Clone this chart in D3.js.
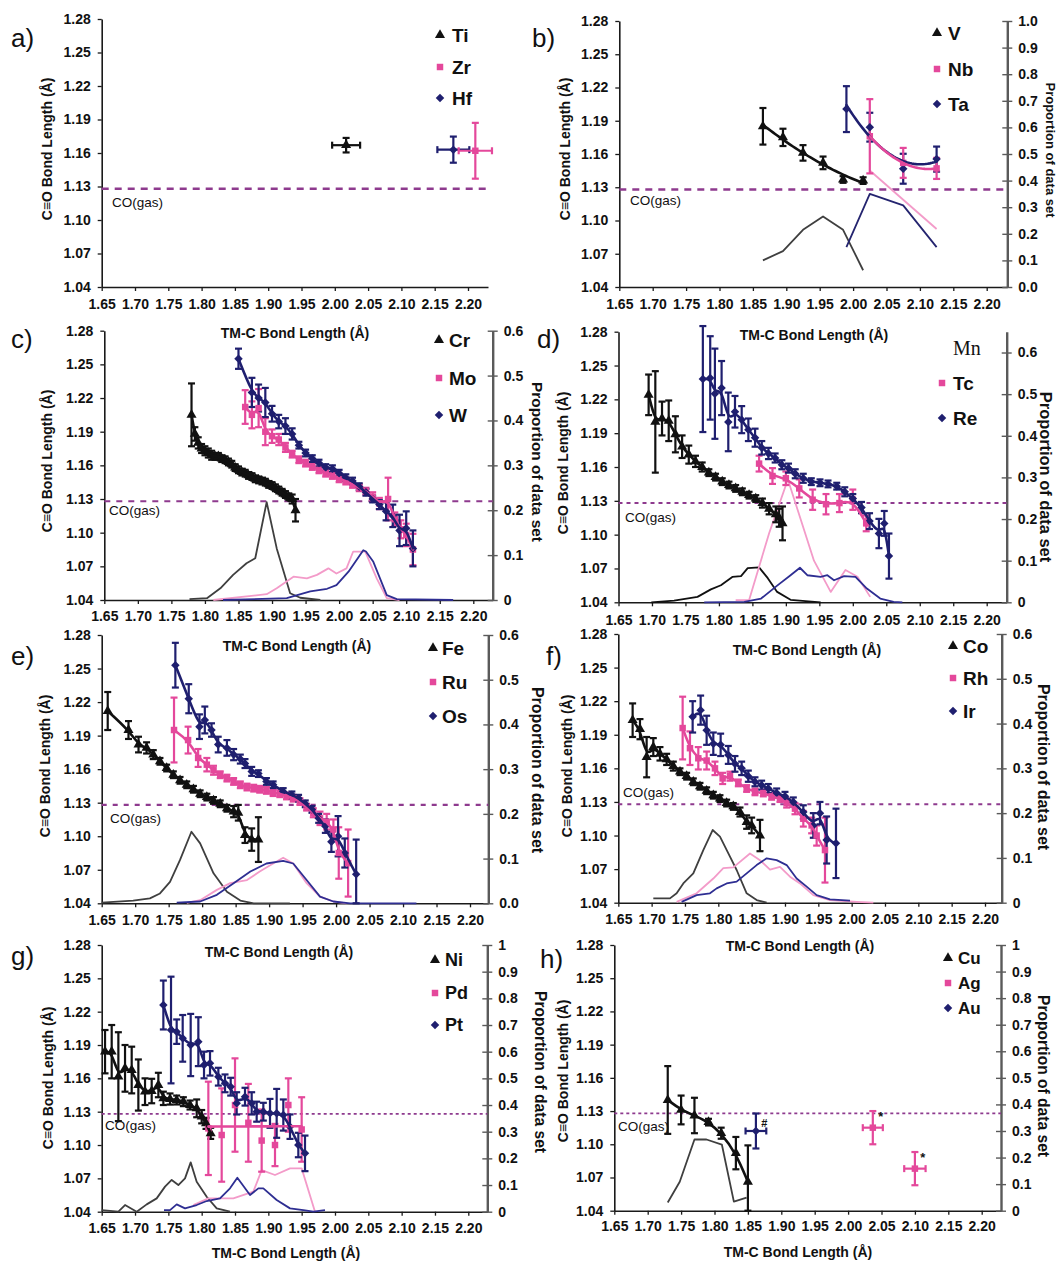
<!DOCTYPE html>
<html>
<head>
<meta charset="utf-8">
<script src="https://cdn.jsdelivr.net/npm/d3@7/dist/d3.min.js"></script>
<style>
  body { margin: 0; background: #fff; }
  svg { display: block; }
</style>
</head>
<body>
<svg id="fig" width="1063" height="1262"></svg>
<script>
// ---------- shared axis values ----------
const xTicks = [1.65, 1.70, 1.75, 1.80, 1.85, 1.90, 1.95, 2.00, 2.05, 2.10, 2.15, 2.20];
const yTicks = [1.04, 1.07, 1.10, 1.13, 1.16, 1.19, 1.22, 1.25, 1.28];
const propTicks6 = [0, 0.1, 0.2, 0.3, 0.4, 0.5, 0.6];
const propTicks10 = [0, 0.1, 0.2, 0.3, 0.4, 0.5, 0.6, 0.7, 0.8, 0.9, 1.0];
const coGas = 1.128;

// ---------- a) Ti, Zr, Hf (single averaged points) ----------
const tiPt = { x: [2.017], y: [1.167], ex: [0.021], ey: [0.0065] };
const zrPt = { x: [2.211], y: [1.162], ex: [0.025], ey: [0.025] };
const hfPt = { x: [2.178], y: [1.163], ex: [0.024], ey: [0.0117] };

// ---------- b) V, Nb, Ta ----------
const vX = [1.865, 1.895, 1.925, 1.955, 1.985, 2.015];
const vY = [1.185, 1.175, 1.161, 1.152, 1.137, 1.136];
const vErr = [0.0165, 0.0078, 0.007, 0.0057, 0.003, 0.003];
const vDistX = [1.865, 1.895, 1.925, 1.955, 1.985, 2.015];
const vDistP = [0.10, 0.135, 0.215, 0.265, 0.215, 0.063];
const nbX = [2.025, 2.075, 2.125];
const nbY = [1.176, 1.152, 1.147];
const nbErr = [0.0335, 0.0135, 0.0095];
const nbDistX = [2.025, 2.075, 2.125];
const nbDistP = [0.438, 0.328, 0.218];
const taX = [1.990, 2.025, 2.075, 2.125];
const taY = [1.2005, 1.1842, 1.1467, 1.1554];
const taErr = [0.0207, 0.013, 0.0135, 0.0113];
const taDistX = [1.990, 2.025, 2.075, 2.125];
const taDistP = [0.15, 0.35, 0.307, 0.15];

// ---------- c) Cr, Mo, W ----------
const crX = [1.780, 1.785, 1.790, 1.795, 1.800, 1.805, 1.810, 1.815, 1.820, 1.825, 1.830, 1.835, 1.840, 1.845, 1.850, 1.855,
             1.860, 1.865, 1.870, 1.875, 1.880, 1.885, 1.890, 1.895, 1.900, 1.905, 1.910, 1.915, 1.920, 1.925, 1.930, 1.935];
const crY = [1.205, 1.188, 1.180, 1.175, 1.173, 1.171, 1.169, 1.168, 1.168, 1.166, 1.165, 1.163, 1.161, 1.158, 1.156, 1.154,
             1.153, 1.151, 1.150, 1.148, 1.147, 1.146, 1.145, 1.143, 1.142, 1.140, 1.138, 1.136, 1.134, 1.132, 1.130, 1.120];
const crErr = [0.028, 0.006, 0.005, 0.004, 0.004, 0.004, 0.004, 0.003, 0.003, 0.003, 0.003, 0.003, 0.003, 0.003, 0.003, 0.003,
               0.003, 0.003, 0.003, 0.003, 0.003, 0.003, 0.003, 0.003, 0.003, 0.003, 0.003, 0.003, 0.003, 0.003, 0.004, 0.010];
const crDistX = [1.777, 1.803, 1.823, 1.842, 1.862, 1.875, 1.892, 1.907, 1.927, 1.942, 1.972];
const crDistP = [0.002, 0.004, 0.026, 0.056, 0.082, 0.093, 0.218, 0.115, 0.015, 0.005, 0.0];
const moX = [1.86, 1.87, 1.88, 1.89, 1.90, 1.91, 1.92, 1.93, 1.94, 1.95, 1.96, 1.97, 1.98,
             1.99, 2.00, 2.01, 2.02, 2.03, 2.04, 2.05, 2.06, 2.073, 2.083, 2.092, 2.10, 2.11];
const moY = [1.212, 1.205, 1.211, 1.190, 1.186, 1.183, 1.176, 1.170, 1.165, 1.162, 1.159, 1.156, 1.153,
             1.151, 1.148, 1.146, 1.143, 1.140, 1.137, 1.132, 1.126, 1.130, 1.112, 1.103, 1.098, 1.085];
const moErr = [0.015, 0.012, 0.017, 0.012, 0.006, 0.005, 0.004, 0.003, 0.003, 0.003, 0.003, 0.003, 0.003,
               0.003, 0.003, 0.003, 0.003, 0.003, 0.003, 0.004, 0.005, 0.019, 0.006, 0.008, 0.010, 0.014];
const moDistX = [1.8125, 1.892, 1.907, 1.932, 1.952, 1.967, 1.984, 1.996, 2.011, 2.021, 2.039, 2.056, 2.071, 2.09];
const moDistP = [0.0, 0.013, 0.026, 0.052, 0.048, 0.056, 0.0705, 0.059, 0.0705, 0.108, 0.108, 0.048, 0.004, 0.0];
const wX = [1.85, 1.87, 1.88, 1.89, 1.90, 1.91, 1.92, 1.93, 1.94, 1.95, 1.96, 1.97, 1.98,
            1.99, 2.00, 2.01, 2.02, 2.03, 2.04, 2.05, 2.06, 2.07, 2.08, 2.09, 2.10, 2.11];
const wY = [1.255, 1.225, 1.220, 1.216, 1.206, 1.199, 1.195, 1.188, 1.178, 1.171, 1.166, 1.162, 1.158,
            1.157, 1.153, 1.149, 1.146, 1.141, 1.136, 1.130, 1.125, 1.119, 1.115, 1.102, 1.104, 1.086];
const wErr = [0.009, 0.013, 0.012, 0.013, 0.007, 0.006, 0.007, 0.005, 0.003, 0.003, 0.003, 0.003, 0.003,
              0.003, 0.003, 0.003, 0.003, 0.003, 0.003, 0.003, 0.004, 0.008, 0.010, 0.014, 0.015, 0.016];
const wDistX = [1.827, 1.922, 1.957, 1.982, 1.996, 2.014, 2.036, 2.040, 2.051, 2.071, 2.086, 2.17];
const wDistP = [0.0, 0.004, 0.019, 0.025, 0.033, 0.063, 0.111, 0.108, 0.085, 0.011, 0.002, 0.0];

// ---------- d) Mn, Tc, Re ----------
const mnX = [1.695, 1.705, 1.715, 1.725, 1.735, 1.745, 1.755, 1.765, 1.775, 1.785, 1.795,
             1.805, 1.815, 1.825, 1.835, 1.845, 1.855, 1.865, 1.875, 1.885, 1.890, 1.895];
const mnY = [1.224, 1.200, 1.203, 1.201, 1.189, 1.178, 1.171, 1.165, 1.160, 1.155, 1.151,
             1.147, 1.144, 1.141, 1.138, 1.135, 1.132, 1.128, 1.123, 1.118, 1.115, 1.110];
const mnErr = [0.018, 0.045, 0.015, 0.018, 0.016, 0.010, 0.008, 0.005, 0.004, 0.003, 0.003,
               0.003, 0.003, 0.003, 0.003, 0.003, 0.003, 0.004, 0.005, 0.007, 0.008, 0.015];
const mnDistX = [1.699, 1.733, 1.768, 1.788, 1.803, 1.820, 1.833, 1.843, 1.860, 1.873, 1.887, 1.907, 1.952];
const mnDistP = [0.0, 0.004, 0.013, 0.031, 0.041, 0.061, 0.063, 0.082, 0.084, 0.058, 0.025, 0.006, 0.0];
const tcX = [1.86, 1.88, 1.90, 1.92, 1.94, 1.96, 1.98, 2.00, 2.02];
const tcY = [1.163, 1.152, 1.150, 1.141, 1.131, 1.127, 1.128, 1.131, 1.110];
const tcErr = [0.007, 0.007, 0.006, 0.008, 0.009, 0.009, 0.008, 0.009, 0.007];
const tcDistX = [1.825, 1.845, 1.875, 1.903, 1.942, 1.967, 1.989, 2.007, 2.026];
const tcDistP = [0.005, 0.005, 0.166, 0.295, 0.100, 0.025, 0.0775, 0.0615, 0.013];
const reX = [1.776, 1.787, 1.794, 1.804, 1.814, 1.824, 1.834, 1.844, 1.854, 1.864, 1.874, 1.884, 1.894, 1.904,
             1.914, 1.926, 1.938, 1.951, 1.963, 1.976, 1.988, 2.000, 2.013, 2.025, 2.039, 2.047, 2.054];
const reY = [1.238, 1.239, 1.225, 1.230, 1.200, 1.209, 1.202, 1.193, 1.186, 1.177, 1.172, 1.168, 1.162, 1.159,
             1.154, 1.150, 1.147, 1.146, 1.145, 1.143, 1.138, 1.132, 1.124, 1.112, 1.101, 1.110, 1.081];
const reErr = [0.047, 0.037, 0.040, 0.024, 0.026, 0.014, 0.012, 0.010, 0.008, 0.006, 0.005, 0.004, 0.004, 0.004,
               0.004, 0.004, 0.003, 0.003, 0.003, 0.003, 0.004, 0.004, 0.005, 0.007, 0.013, 0.011, 0.020];
const reDistX = [1.778, 1.838, 1.863, 1.887, 1.907, 1.921, 1.932, 1.952, 1.962, 1.972, 1.987, 2.004, 2.021, 2.041, 2.061, 2.074];
const reDistP = [0.0, 0.001, 0.009, 0.040, 0.065, 0.083, 0.065, 0.061, 0.065, 0.053, 0.063, 0.061, 0.033, 0.009, 0.001, 0.0];

// ---------- e) Fe, Ru, Os ----------
const feX = [1.659, 1.690, 1.705, 1.717, 1.727, 1.737, 1.747, 1.757, 1.767, 1.777, 1.787,
             1.797, 1.807, 1.817, 1.827, 1.837, 1.847, 1.854, 1.864, 1.874, 1.884];
const feY = [1.212, 1.195, 1.182, 1.179, 1.173, 1.167, 1.161, 1.155, 1.150, 1.146, 1.142,
             1.138, 1.135, 1.132, 1.129, 1.125, 1.122, 1.121, 1.101, 1.097, 1.097];
const feErr = [0.017, 0.008, 0.007, 0.005, 0.004, 0.003, 0.003, 0.003, 0.003, 0.003, 0.003,
               0.003, 0.003, 0.003, 0.003, 0.003, 0.005, 0.007, 0.007, 0.010, 0.020];
const feDistX = [1.65, 1.697, 1.722, 1.737, 1.752, 1.767, 1.784, 1.797, 1.817, 1.837, 1.857, 1.877, 1.931];
const feDistP = [0.0015, 0.006, 0.011, 0.022, 0.048, 0.097, 0.160, 0.134, 0.067, 0.026, 0.006, 0.0, 0.0];
const ruX = [1.758, 1.779, 1.794, 1.807, 1.817, 1.827, 1.837, 1.847, 1.857, 1.867, 1.877, 1.886, 1.896,
             1.906, 1.916, 1.926, 1.936, 1.946, 1.956, 1.966, 1.976, 1.986, 1.996, 2.004, 2.018];
const ruY = [1.195, 1.186, 1.170, 1.164, 1.159, 1.155, 1.152, 1.149, 1.146, 1.144, 1.143, 1.142, 1.141,
             1.139, 1.138, 1.136, 1.134, 1.131, 1.126, 1.121, 1.116, 1.113, 1.106, 1.085, 1.076];
const ruErr = [0.029, 0.012, 0.008, 0.006, 0.004, 0.003, 0.003, 0.003, 0.003, 0.003, 0.003, 0.003, 0.003,
               0.003, 0.003, 0.003, 0.003, 0.003, 0.003, 0.004, 0.006, 0.007, 0.009, 0.023, 0.030];
const ruDistX = [1.777, 1.797, 1.822, 1.842, 1.867, 1.886, 1.906, 1.921, 1.936, 1.956, 1.976, 1.996, 2.016];
const ruDistP = [0.001, 0.007, 0.030, 0.045, 0.052, 0.071, 0.089, 0.102, 0.089, 0.045, 0.015, 0.004, 0.0];
const osX = [1.760, 1.780, 1.796, 1.804, 1.814, 1.824, 1.837, 1.847, 1.857, 1.864, 1.874, 1.884, 1.896,
             1.906, 1.921, 1.934, 1.944, 1.954, 1.964, 1.974, 1.984, 1.993, 2.003, 2.013, 2.030];
const osY = [1.253, 1.223, 1.198, 1.204, 1.195, 1.182, 1.179, 1.173, 1.169, 1.165, 1.158, 1.156, 1.149,
             1.146, 1.140, 1.137, 1.134, 1.129, 1.124, 1.116, 1.109, 1.095, 1.100, 1.085, 1.066];
const osErr = [0.020, 0.013, 0.011, 0.012, 0.006, 0.007, 0.007, 0.005, 0.004, 0.004, 0.004, 0.003, 0.003,
               0.003, 0.003, 0.003, 0.003, 0.003, 0.003, 0.004, 0.006, 0.009, 0.018, 0.013, 0.031];
const osDistX = [1.762, 1.797, 1.822, 1.847, 1.872, 1.896, 1.921, 1.936, 1.956, 1.976, 1.996, 2.021, 2.12];
const osDistP = [0.0015, 0.004, 0.019, 0.045, 0.071, 0.089, 0.095, 0.089, 0.052, 0.015, 0.004, 0.0, 0.0];

// ---------- f) Co, Rh, Ir ----------
const coX = [1.6715, 1.6825, 1.6925, 1.7025, 1.7125, 1.7225, 1.7325, 1.7425, 1.7525, 1.7625,
             1.7725, 1.7825, 1.7925, 1.8025, 1.8125, 1.8225, 1.8325, 1.8425, 1.850, 1.8625];
const coY = [1.203, 1.195, 1.170, 1.179, 1.173, 1.168, 1.162, 1.157, 1.153, 1.148,
             1.144, 1.140, 1.136, 1.133, 1.129, 1.126, 1.121, 1.112, 1.109, 1.100];
const coErr = [0.015, 0.009, 0.018, 0.008, 0.006, 0.005, 0.004, 0.003, 0.003, 0.003,
               0.003, 0.003, 0.003, 0.003, 0.003, 0.003, 0.004, 0.006, 0.007, 0.014];
const coDistX = [1.7025, 1.7275, 1.7375, 1.7475, 1.7625, 1.7775, 1.7915, 1.8025, 1.8175, 1.8275, 1.8425, 1.8575, 1.8725];
const coDistP = [0.0097, 0.0097, 0.021, 0.043, 0.0655, 0.1176, 0.1623, 0.1474, 0.1027, 0.073, 0.021, 0.006, 0.0];
const rhX = [1.7465, 1.7575, 1.770, 1.7825, 1.795, 1.8065, 1.8175, 1.830, 1.8425, 1.855,
             1.8675, 1.880, 1.8925, 1.9025, 1.915, 1.9275, 1.940, 1.9475, 1.960];
const rhY = [1.196, 1.178, 1.169, 1.167, 1.160, 1.151, 1.153, 1.147, 1.142, 1.139,
             1.138, 1.135, 1.133, 1.129, 1.124, 1.115, 1.109, 1.100, 1.087];
const rhErr = [0.028, 0.015, 0.010, 0.008, 0.006, 0.005, 0.004, 0.003, 0.003, 0.003,
               0.003, 0.003, 0.003, 0.004, 0.005, 0.007, 0.007, 0.009, 0.029];
const rhDistX = [1.7375, 1.7675, 1.7925, 1.8075, 1.8225, 1.8475, 1.8625, 1.8775, 1.8925, 1.9075, 1.9225, 1.9425, 1.9675, 2.0075, 2.0325];
const rhDistP = [0.002, 0.021, 0.054, 0.077, 0.079, 0.110, 0.095, 0.074, 0.080, 0.058, 0.043, 0.017, 0.006, 0.002, 0.0];
const irX = [1.7615, 1.7735, 1.7825, 1.7925, 1.8035, 1.815, 1.825, 1.835, 1.845, 1.855,
             1.865, 1.875, 1.8875, 1.900, 1.9125, 1.9275, 1.9425, 1.9525, 1.9625, 1.9765];
const irY = [1.206, 1.212, 1.194, 1.182, 1.181, 1.172, 1.164, 1.160, 1.153, 1.148,
             1.145, 1.142, 1.138, 1.135, 1.130, 1.121, 1.109, 1.120, 1.096, 1.093];
const irErr = [0.014, 0.013, 0.013, 0.010, 0.010, 0.008, 0.007, 0.006, 0.005, 0.004,
               0.004, 0.004, 0.004, 0.004, 0.004, 0.006, 0.011, 0.010, 0.021, 0.031];
const irDistX = [1.745, 1.7675, 1.7875, 1.7975, 1.8125, 1.8275, 1.8425, 1.8575, 1.8725, 1.8875, 1.9025, 1.9175, 1.9325, 1.9475, 1.9675, 1.9975];
const irDistP = [0.002, 0.017, 0.021, 0.032, 0.043, 0.047, 0.0655, 0.084, 0.099, 0.095, 0.084, 0.054, 0.036, 0.017, 0.0075, 0.0045];

// ---------- g) Ni, Pd, Pt ----------
const niX = [1.655, 1.665, 1.675, 1.685, 1.695, 1.705, 1.715, 1.725, 1.735,
             1.7425, 1.7525, 1.7625, 1.7725, 1.7825, 1.7925, 1.800, 1.8065, 1.8135];
const niY = [1.184, 1.184, 1.1615, 1.169, 1.1675, 1.154, 1.148, 1.1486, 1.154,
             1.142, 1.1414, 1.1405, 1.139, 1.136, 1.133, 1.1255, 1.1195, 1.1105];
const niErr = [0.0195, 0.024, 0.040, 0.021, 0.021, 0.023, 0.012, 0.011, 0.011,
               0.006, 0.005, 0.004, 0.004, 0.004, 0.008, 0.006, 0.005, 0.005];
const niDistX = [1.65, 1.675, 1.685, 1.7025, 1.7175, 1.7325, 1.745, 1.755, 1.765, 1.775, 1.7835, 1.7925, 1.8075, 1.8225, 1.8425];
const niDistP = [0.006, 0.0, 0.025, 0.0, 0.0275, 0.05, 0.094, 0.119, 0.10, 0.125, 0.185, 0.1125, 0.056, 0.0125, 0.0];
const pdX = [1.81, 1.83, 1.85, 1.87, 1.89, 1.91, 1.93, 1.95];
const pdY = [1.115, 1.109, 1.136, 1.120, 1.104, 1.100, 1.136, 1.114];
const pdErr = [0.042, 0.042, 0.042, 0.035, 0.028, 0.019, 0.024, 0.029];
const pdDistX = [1.7875, 1.81, 1.8475, 1.8775, 1.89, 1.91, 1.9325, 1.95, 1.97];
const pdDistP = [0.025, 0.05, 0.05, 0.075, 0.156, 0.1375, 0.1625, 0.1625, 0.0];
const ptX = [1.7425, 1.754, 1.7625, 1.7715, 1.7835, 1.795, 1.8035, 1.8125, 1.825, 1.835, 1.8435,
             1.8525, 1.865, 1.875, 1.8825, 1.8925, 1.9025, 1.9125, 1.9225, 1.9325, 1.945, 1.955];
const ptY = [1.226, 1.2035, 1.202, 1.196, 1.190, 1.193, 1.172, 1.1735, 1.1615, 1.1555, 1.1525,
             1.1375, 1.1435, 1.1375, 1.130, 1.130, 1.1285, 1.1285, 1.127, 1.1165, 1.100, 1.0925];
const ptErr = [0.022, 0.048, 0.011, 0.021, 0.028, 0.022, 0.012, 0.011, 0.008, 0.008, 0.008,
               0.010, 0.008, 0.010, 0.009, 0.008, 0.013, 0.022, 0.014, 0.011, 0.011, 0.016];
const ptDistX = [1.7435, 1.7525, 1.7625, 1.775, 1.7925, 1.8075, 1.8275, 1.8425, 1.8535, 1.8725, 1.885, 1.8925, 1.9125, 1.9325, 1.9525, 1.9675, 1.985];
const ptDistP = [0.006, 0.006, 0.0275, 0.0125, 0.025, 0.04, 0.05, 0.0875, 0.1275, 0.0625, 0.0875, 0.0875, 0.044, 0.0125, 0.006, 0.0, 0.006];

// ---------- h) Cu, Ag, Au ----------
const cuX = [1.730, 1.750, 1.770, 1.791, 1.810, 1.832, 1.850];
const cuY = [1.140, 1.131, 1.126, 1.120, 1.110, 1.092, 1.066];
const cuErr = [0.0306, 0.013, 0.016, 0.003, 0.005, 0.0146, 0.033];
const cuDistX = [1.730, 1.748, 1.770, 1.788, 1.811, 1.829, 1.848];
const cuDistP = [0.031, 0.109, 0.268, 0.268, 0.249, 0.034, 0.049];
const agPt = { x: [2.037, 2.100], y: [1.115, 1.078], ex: [0.015, 0.016], ey: [0.015, 0.015] };
const auPt = { x: [1.862], y: [1.112], ex: [0.0155], ey: [0.0158] };

// ---------- styling ----------
const FONT = '"Liberation Sans", Arial, Helvetica, sans-serif';
const COL = {
  black: '#111111', pink: '#e4489b', navy: '#1f1f6f',
  dGray: '#3f3f3f', dPink: '#f39bc9', dBlue: '#2e2e92',
  co: '#8e3a8e', axis: '#1a1a1a', raxis: '#5a5a5a'
};
const fmt2 = d3.format('.2f');
const fmt1 = d3.format('.1f');
const fmtP = d => d === 0 ? '0' : fmt1(d);
const fmtP10 = d => d === 0 ? '0' : d === 1 ? '1' : fmt1(d);

const svg = d3.select('#fig');
svg.append('rect').attr('width', 1063).attr('height', 1262).attr('fill', '#fff');

const S = (x, y, e, mk, col, fit, dist, dcol) => ({ x, y, e, mk, col, fit, dist, dcol });

const panels = [
  { key: 'a)', lab: [11, 47], x0: 101.7, x1: 468, xr: 488, yt: 19, yb: 287, xpad: 12,
    rMax: null, coLab: [112, 207], dash: '7,6', dashW: 2.4,
    leftTitle: [47, 149],
    series: [], points: [[tiPt, 'tri', COL.black], [hfPt, 'dia', COL.navy], [zrPt, 'sq', COL.pink]],
    legend: { mx: 440, tx: 452, rows: [35, 67, 98], size: 19, items: [['Ti', 'tri', COL.black], ['Zr', 'sq', COL.pink], ['Hf', 'dia', COL.navy]] } },
  { key: 'b)', lab: [532, 47], x0: 619.3, x1: 986.7, xr: 1007.3, yt: 21, yb: 287, xpad: 12,
    rMax: 1.0, rTicks: propTicks10, rFmt: fmt1, rTitle: [1050, 150, 13], coLab: [630, 205], dash: '7,6', dashW: 2.4,
    leftTitle: [565, 149],
    series: [S(vX, vY, vErr, 'tri', COL.black, 2, [vDistX, vDistP], COL.dGray),
             S(taX, taY, taErr, 'dia', COL.navy, 2, [taDistX, taDistP], '#24246f'),
             S(nbX, nbY, nbErr, 'sq', COL.pink, 2, [nbDistX, nbDistP], COL.dPink)],
    legend: { mx: 937, tx: 948, rows: [33, 69, 104], size: 19, items: [['V', 'tri', COL.black], ['Nb', 'sq', COL.pink], ['Ta', 'dia', COL.navy]] } },
  { key: 'c)', lab: [11, 348], x0: 104.3, x1: 473.3, xr: 492.7, yt: 330.7, yb: 600, xpad: 11,
    rMax: 0.6, rTicks: propTicks6, rFmt: fmtP, rTitle: [537, 462, 15.4], coLab: [109, 515], dash: '6,6', dashW: 2.2,
    leftTitle: [47, 461],
    series: [S(crX, crY, crErr, 'tri', COL.black, 'smooth', [crDistX, crDistP], COL.dGray),
             S(moX, moY, moErr, 'sq', COL.pink, 'smooth', [moDistX, moDistP], COL.dPink),
             S(wX, wY, wErr, 'dia', COL.navy, 'smooth', [wDistX, wDistP], COL.dBlue)],
    legend: { mx: 439, tx: 449, rows: [340, 378, 415], size: 19, items: [['Cr', 'tri', COL.black], ['Mo', 'sq', COL.pink], ['W', 'dia', COL.navy]] } },
  { key: 'd)', lab: [537, 348], x0: 618.5, x1: 986.7, xr: 1006.7, yt: 331.7, yb: 602.3, xpad: 13,
    rMax: 0.65, rTicks: propTicks6, rFmt: fmtP, rTitle: [1046, 477, 16.4], coLab: [625, 522], dash: '4,4', dashW: 2,
    leftTitle: [563, 463],
    series: [S(mnX, mnY, mnErr, 'tri', COL.black, 'smooth', [mnDistX, mnDistP], COL.black),
             S(tcX, tcY, tcErr, 'sq', COL.pink, 'smooth', [tcDistX, tcDistP], COL.dPink),
             S(reX, reY, reErr, 'dia', COL.navy, 'smooth', [reDistX, reDistP], COL.dBlue)],
    legend: { mx: 942, tx: 953, rows: [348, 383, 418], size: 19, items: [['Mn', null, COL.black], ['Tc', 'sq', COL.pink], ['Re', 'dia', COL.navy]] } },
  { key: 'e)', lab: [11, 665], x0: 101.7, x1: 470, xr: 488.3, yt: 635, yb: 903.3, xpad: 12,
    rMax: 0.6, rTicks: propTicks6, rFmt: fmt1, rTitle: [537, 770, 16], coLab: [110, 823], dash: '5,6', dashW: 2.2,
    leftTitle: [45, 766],
    series: [S(feX, feY, feErr, 'tri', COL.black, 'smooth', [feDistX, feDistP], COL.dGray),
             S(ruX, ruY, ruErr, 'sq', COL.pink, 'smooth', [ruDistX, ruDistP], COL.dPink),
             S(osX, osY, osErr, 'dia', COL.navy, 'smooth', [osDistX, osDistP], COL.dBlue)],
    legend: { mx: 433, tx: 442, rows: [648, 682, 716], size: 19, items: [['Fe', 'tri', COL.black], ['Ru', 'sq', COL.pink], ['Os', 'dia', COL.navy]] } },
  { key: 'f)', lab: [546, 665], x0: 618.3, x1: 985, xr: 1001.7, yt: 634, yb: 902.7, xpad: 11,
    rMax: 0.6, rTicks: propTicks6, rFmt: fmtP, rTitle: [1043, 767, 16], coLab: [623, 797], dash: '4,5', dashW: 2,
    leftTitle: [567, 766],
    series: [S(coX, coY, coErr, 'tri', COL.black, 'smooth', [coDistX, coDistP], COL.dGray),
             S(rhX, rhY, rhErr, 'sq', COL.pink, 'smooth', [rhDistX, rhDistP], COL.dPink),
             S(irX, irY, irErr, 'dia', COL.navy, 'smooth', [irDistX, irDistP], COL.dBlue)],
    legend: { mx: 953, tx: 963, rows: [646, 678, 711], size: 19, items: [['Co', 'tri', COL.black], ['Rh', 'sq', COL.pink], ['Ir', 'dia', COL.navy]] } },
  { key: 'g)', lab: [11, 965], x0: 101.7, x1: 468.3, xr: 487.3, yt: 945, yb: 1211.7, xpad: 11,
    rMax: 1.0, rTicks: propTicks10, rFmt: fmtP10, rTitle: [540, 1072, 15.6], coLab: [105, 1130], dash: '3,3', dashW: 1.6,
    leftTitle: [48, 1078],
    series: [S(niX, niY, niErr, 'tri', COL.black, 'smooth', [niDistX, niDistP], COL.dGray),
             S(pdX, pdY, pdErr, 'sq', COL.pink, 1, [pdDistX, pdDistP], COL.dPink),
             S(ptX, ptY, ptErr, 'dia', COL.navy, 'smooth', [ptDistX, ptDistP], COL.dBlue)],
    legend: { mx: 435, tx: 445, rows: [960, 993, 1025], size: 18, items: [['Ni', 'tri', COL.black], ['Pd', 'sq', COL.pink], ['Pt', 'dia', COL.navy]] } },
  { key: 'h)', lab: [540, 968], x0: 614.3, x1: 981.7, xr: 1001, yt: 945, yb: 1210.7, xpad: 10,
    rMax: 1.0, rTicks: propTicks10, rFmt: fmtP10, rTitle: [1043, 1076, 15.6], coLab: [618, 1131], dash: '3,3', dashW: 1.8,
    leftTitle: [563, 1071],
    series: [S(cuX, cuY, cuErr, 'tri', COL.black, 'smooth', [cuDistX, cuDistP], COL.dGray)],
    points: [[auPt, 'dia', COL.navy], [agPt, 'sq', COL.pink]],
    notes: [['#', 1.870, 1.116, 11], ['*', 2.045, 1.121, 13], ['*', 2.108, 1.084, 13]],
    legend: { mx: 948, tx: 958, rows: [958, 983, 1008], size: 17, items: [['Cu', 'tri', COL.black], ['Ag', 'sq', COL.pink], ['Au', 'dia', COL.navy]] } }
];

// x-axis titles sit just under each row of panels (baseline positions)
const xTitlePos = [[295, 338], [814, 340], [297, 651], [807, 655], [279, 957], [800, 951], [286, 1258], [798, 1257]];

// ---------- helpers ----------
const symbolFor = {
  tri: d3.symbol().type(d3.symbolTriangle).size(44),
  sq: d3.symbol().type(d3.symbolSquare).size(42),
  dia: d3.symbol().type(d3.symbolSquare).size(36)
};
function marker(g, kind, cx, cy, col) {
  const p = g.append('path').attr('d', symbolFor[kind]()).attr('fill', col);
  p.attr('transform', `translate(${cx},${cy})` + (kind === 'dia' ? ' rotate(45)' : ''));
  return p;
}

function polyfit(xs, ys, deg) {
  const mx = d3.mean(xs), n = deg + 1;
  const A = Array.from({ length: n }, () => new Array(n).fill(0));
  const b = new Array(n).fill(0);
  xs.forEach((xv, i) => {
    const t = xv - mx;
    for (let r = 0; r < n; r++) {
      b[r] += ys[i] * Math.pow(t, r);
      for (let c = 0; c < n; c++) A[r][c] += Math.pow(t, r + c);
    }
  });
  for (let c = 0; c < n; c++) {
    let piv = c;
    for (let r = c + 1; r < n; r++) if (Math.abs(A[r][c]) > Math.abs(A[piv][c])) piv = r;
    [A[c], A[piv]] = [A[piv], A[c]]; [b[c], b[piv]] = [b[piv], b[c]];
    for (let r = c + 1; r < n; r++) {
      const f = A[r][c] / A[c][c];
      for (let k = c; k < n; k++) A[r][k] -= f * A[c][k];
      b[r] -= f * b[c];
    }
  }
  const coef = new Array(n).fill(0);
  for (let r = n - 1; r >= 0; r--) {
    let s = b[r];
    for (let k = r + 1; k < n; k++) s -= A[r][k] * coef[k];
    coef[r] = s / A[r][r];
  }
  return xv => coef.reduce((acc, cf, k) => acc + cf * Math.pow(xv - mx, k), 0);
}

function styleAxis(g, size) {
  g.attr('font-family', FONT).attr('font-size', size).attr('font-weight', 'bold');
  g.selectAll('text').attr('fill', '#111');
  g.selectAll('.tick line').attr('stroke', COL.axis).attr('stroke-width', 1.3);
  g.select('.domain').attr('stroke', COL.axis).attr('stroke-width', 1.6);
}

function errorBar(g, x1, y1, x2, y2, col, vertical) {
  g.append('line').attr('x1', x1).attr('y1', y1).attr('x2', x2).attr('y2', y2)
    .attr('stroke', col).attr('stroke-width', 2.2);
  const caps = vertical ? [[x1 - 3.5, y1, x1 + 3.5, y1], [x2 - 3.5, y2, x2 + 3.5, y2]]
                        : [[x1, y1 - 3.5, x1, y1 + 3.5], [x2, y2 - 3.5, x2, y2 + 3.5]];
  caps.forEach(c => g.append('line').attr('x1', c[0]).attr('y1', c[1]).attr('x2', c[2]).attr('y2', c[3])
    .attr('stroke', col).attr('stroke-width', 2.2));
}

// ---------- draw ----------
panels.forEach(P => {
  const g = svg.append('g');
  const xMax = 1.65 + (P.xr - P.x0) / (P.x1 - P.x0) * 0.55;
  const x = d3.scaleLinear().domain([1.65, xMax]).range([P.x0, P.xr]);
  const y = d3.scaleLinear().domain([1.04, 1.28]).range([P.yb, P.yt]);
  const yClip = v => y(Math.max(1.04, v));
  const yr = P.rMax ? d3.scaleLinear().domain([0, P.rMax]).range([P.yb, P.yt]) : null;

  // axes
  const gl = g.append('g').attr('transform', `translate(${P.x0},0)`)
    .call(d3.axisLeft(y).tickValues(yTicks).tickFormat(fmt2).tickSize(4).tickPadding(7).tickSizeOuter(0));
  styleAxis(gl, 14);
  const gb = g.append('g').attr('transform', `translate(0,${P.yb})`)
    .call(d3.axisBottom(x).tickValues(xTicks).tickFormat(fmt2).tickSize(4).tickPadding(P.xpad - 4).tickSizeOuter(0));
  styleAxis(gb, 14);
  if (yr) {
    const gr = g.append('g').attr('transform', `translate(${P.xr},0)`)
      .call(d3.axisRight(yr).tickValues(P.rTicks).tickFormat(P.rFmt).tickSize(5).tickPadding(6).tickSizeOuter(0));
    styleAxis(gr, 14);
    gr.selectAll('.tick line').attr('x1', -5).attr('stroke', COL.raxis).attr('stroke-width', 1.4);
    gr.select('.domain').attr('stroke', COL.raxis).attr('stroke-width', 2.4);
    g.append('text').attr('transform', `translate(${P.rTitle[0]},${P.rTitle[1]}) rotate(90)`)
      .attr('text-anchor', 'middle').attr('dominant-baseline', 'central')
      .attr('font-family', FONT).attr('font-weight', 'bold').attr('font-size', P.rTitle[2])
      .attr('fill', '#111').text('Proportion of data set');
  }

  // left axis title
  g.append('text').attr('transform', `translate(${P.leftTitle[0]},${P.leftTitle[1]}) rotate(-90)`)
    .attr('text-anchor', 'middle').attr('dominant-baseline', 'central')
    .attr('font-family', FONT).attr('font-weight', 'bold').attr('font-size', 14)
    .attr('fill', '#111').text('C\u2261O Bond Length (\u00c5)');

  // gas-phase CO reference
  g.append('line').attr('x1', P.x0).attr('x2', P.xr).attr('y1', y(coGas)).attr('y2', y(coGas))
    .attr('stroke', COL.co).attr('stroke-width', P.dashW).attr('stroke-dasharray', P.dash);
  g.append('text').attr('x', P.coLab[0]).attr('y', P.coLab[1])
    .attr('font-family', FONT).attr('font-size', 13.5).attr('fill', '#111').text('CO(gas)');

  // distribution curves on the secondary axis
  P.series.forEach(s => {
    if (!s.dist || !yr) return;
    const pts = d3.zip(s.dist[0], s.dist[1]);
    g.append('path').attr('d', d3.line().x(d => x(d[0])).y(d => yr(d[1]))(pts))
      .attr('fill', 'none').attr('stroke', s.dcol).attr('stroke-width', 1.8).attr('stroke-linejoin', 'round');
  });

  // error bars, markers and trend lines
  P.series.forEach(s => {
    const eg = g.append('g');
    s.x.forEach((xv, i) => errorBar(eg, x(xv), Math.min(P.yb, yClip(s.y[i] - s.e[i])), x(xv), y(s.y[i] + s.e[i]), s.col, true));
  });
  P.series.forEach(s => {
    const mg = g.append('g');
    s.x.forEach((xv, i) => marker(mg, s.mk, x(xv), y(s.y[i]), s.col));
  });
  P.series.forEach(s => {
    let pts;
    let curve = d3.curveLinear;
    if (s.fit === 'smooth') { pts = d3.zip(s.x, s.y); curve = d3.curveBasis; }
    else {
      const f = polyfit(s.x, s.y, s.fit);
      const [lo, hi] = d3.extent(s.x);
      pts = d3.range(0, 41).map(k => { const xv = lo + (hi - lo) * k / 40; return [xv, f(xv)]; });
    }
    g.append('path').attr('d', d3.line().curve(curve).x(d => x(d[0])).y(d => y(d[1]))(pts))
      .attr('fill', 'none').attr('stroke', s.col).attr('stroke-width', 2.6).attr('stroke-linecap', 'round');
  });

  // single averaged points with two-way error bars
  (P.points || []).forEach(([pt, mk, col]) => {
    const pg = g.append('g');
    pt.x.forEach((xv, i) => {
      errorBar(pg, x(xv - pt.ex[i]), y(pt.y[i]), x(xv + pt.ex[i]), y(pt.y[i]), col, false);
      errorBar(pg, x(xv), y(pt.y[i] - pt.ey[i]), x(xv), y(pt.y[i] + pt.ey[i]), col, true);
      marker(pg, mk, x(xv), y(pt.y[i]), col);
    });
  });
  (P.notes || []).forEach(([t, xv, yv, fs]) => {
    g.append('text').attr('x', x(xv)).attr('y', y(yv)).attr('font-family', FONT).attr('font-weight', 'bold')
      .attr('font-size', fs).attr('fill', '#111').text(t);
  });

  // legend
  const L = P.legend;
  L.items.forEach(([name, mk, col], i) => {
    const ry = L.rows[i];
    if (mk) marker(g, mk, L.mx, ry, col);
    const t = g.append('text').attr('x', L.tx).attr('y', ry + L.size * 0.36)
      .attr('font-size', L.size).attr('fill', '#111').text(name);
    if (mk) t.attr('font-family', FONT).attr('font-weight', 'bold');
    else t.attr('font-family', '"Liberation Serif", "DejaVu Serif", serif').attr('font-size', L.size + 1);
  });

  // panel letter
  g.append('text').attr('x', P.lab[0]).attr('y', P.lab[1]).attr('font-family', FONT)
    .attr('font-size', 26).attr('fill', '#111').text(P.key);
});

xTitlePos.forEach(([tx, ty]) => {
  svg.append('text').attr('x', tx).attr('y', ty).attr('text-anchor', 'middle')
    .attr('font-family', FONT).attr('font-weight', 'bold').attr('font-size', 14)
    .attr('fill', '#111').text('TM-C Bond Length (\u00c5)');
});
</script>
</body>
</html>
